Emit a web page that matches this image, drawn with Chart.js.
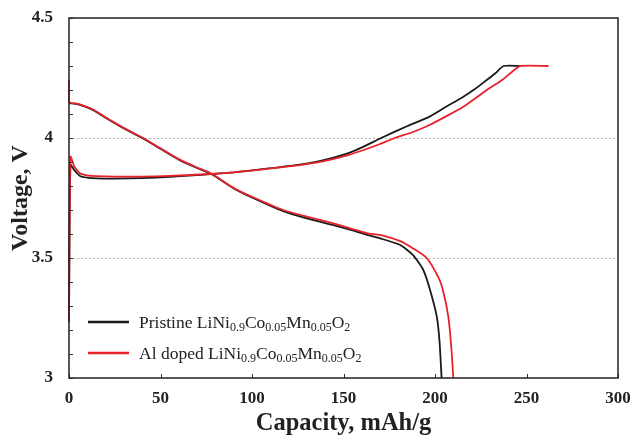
<!DOCTYPE html>
<html>
<head>
<meta charset="utf-8">
<script src="https://cdn.jsdelivr.net/npm/chart.js@4.4.1/dist/chart.umd.min.js"></script>
<style>
  html, body { margin: 0; padding: 0; background: #fff; }
  #wrap { width: 634px; height: 438px; position: relative; }
</style>
</head>
<body>
<div id="wrap"><canvas id="chart"></canvas></div>
<script>
// Axis ticks
const xTicks = [0, 50, 100, 150, 200, 250, 300];
const yTicks = [3, 3.5, 4, 4.5];

// Pristine (black) - charge
const pristineChargeX = [0, 0.8, 3, 6, 10, 15, 25, 40, 55, 72, 90, 108, 125, 135, 143, 153, 161, 170, 185, 197, 206, 215.5, 222, 228.3, 233, 237.5, 247];
const pristineChargeY = [3.25, 3.888, 3.865, 3.842, 3.835, 3.832, 3.831, 3.833, 3.838, 3.846, 3.857, 3.872, 3.888, 3.901, 3.915, 3.938, 3.964, 3.998, 4.05, 4.089, 4.13, 4.172, 4.205, 4.242, 4.27, 4.30, 4.30];
// Pristine (black) - discharge
const pristineDischargeX = [0, 5, 13, 22, 30, 40, 50, 60, 70, 78, 90, 100, 117, 130, 144, 155, 163, 170, 181, 188, 193.6, 197.3, 201, 202.5, 203.6];
const pristineDischargeY = [4.145, 4.14, 4.117, 4.075, 4.04, 4.0, 3.955, 3.91, 3.875, 3.849, 3.79, 3.752, 3.695, 3.665, 3.638, 3.615, 3.596, 3.582, 3.554, 3.512, 3.45, 3.367, 3.255, 3.15, 3.0];

// Al doped (red) - charge
const dopedChargeX = [0, 0.8, 3, 6, 10, 15, 25, 40, 55, 72, 90, 108, 125, 135, 143, 153, 161, 170, 178, 188, 197, 206, 215.5, 228.3, 237.3, 242, 246.5, 262];
const dopedChargeY = [3.23, 3.922, 3.88, 3.853, 3.844, 3.841, 3.839, 3.839, 3.842, 3.848, 3.857, 3.871, 3.886, 3.897, 3.91, 3.93, 3.95, 3.975, 4.0, 4.025, 4.054, 4.09, 4.13, 4.2, 4.245, 4.275, 4.30, 4.30];
// Al doped (red) - discharge
const dopedDischargeX = [0, 0, 5, 13, 22, 30, 40, 50, 60, 70, 78, 90, 100, 117, 130, 144, 155, 163, 170, 181, 188, 195.5, 201.8, 204.2, 207.3, 209, 210];
const dopedDischargeY = [4.24, 4.15, 4.142, 4.119, 4.077, 4.042, 4.002, 3.957, 3.912, 3.877, 3.851, 3.792, 3.755, 3.7, 3.672, 3.645, 3.62, 3.603, 3.596, 3.57, 3.54, 3.5, 3.42, 3.37, 3.255, 3.12, 3.0];

const BLACK = '#1a1a1a';
const RED = '#e8212a';

function pts(xs, ys) {
  return xs.map((x, i) => ({ x: x, y: ys[i] }));
}

function series(xs, ys, color, order) {
  return {
    data: pts(xs, ys),
    borderColor: color,
    backgroundColor: color,
    borderWidth: 1.8,
    pointRadius: 0,
    tension: 0.2,
    fill: false,
    clip: 3,
    order: order
  };
}

// Legend entries: [text, subscript?] segments
const legendItems = [
  { color: BLACK, parts: [['Pristine LiNi', 0], ['0.9', 1], ['Co', 0], ['0.05', 1], ['Mn', 0], ['0.05', 1], ['O', 0], ['2', 1]] },
  { color: RED, parts: [['Al doped LiNi', 0], ['0.9', 1], ['Co', 0], ['0.05', 1], ['Mn', 0], ['0.05', 1], ['O', 0], ['2', 1]] }
];

const SERIF = '"Liberation Serif", "Times New Roman", serif';

// Frame, inner tick marks and legend
const decorPlugin = {
  id: 'decor',
  afterDraw(chart) {
    const { ctx, chartArea: a, scales } = chart;
    ctx.save();
    // inner tick marks
    ctx.strokeStyle = '#333';
    ctx.lineWidth = 1;
    ctx.beginPath();
    scales.y.ticks.forEach(t => {
      const py = Math.round(scales.y.getPixelForValue(t.value)) + 0.5;
      ctx.moveTo(a.left, py);
      ctx.lineTo(a.left + 4, py);
    });
    xTicks.forEach(v => {
      const px = Math.round(scales.x.getPixelForValue(v)) + 0.5;
      ctx.moveTo(px, a.bottom);
      ctx.lineTo(px, a.bottom - 4);
    });
    ctx.stroke();
    // frame
    ctx.strokeStyle = '#222';
    ctx.lineWidth = 1.5;
    ctx.strokeRect(a.left, a.top, a.right - a.left, a.bottom - a.top);

    // legend
    const rows = [322, 353];
    legendItems.forEach((item, i) => {
      const y = rows[i];
      ctx.strokeStyle = item.color;
      ctx.lineWidth = 2.5;
      ctx.beginPath();
      ctx.moveTo(88, y);
      ctx.lineTo(129, y);
      ctx.stroke();
      let x = 139;
      ctx.fillStyle = '#222';
      ctx.textBaseline = 'alphabetic';
      ctx.textAlign = 'left';
      item.parts.forEach(([txt, sub]) => {
        ctx.font = sub ? '12px ' + SERIF : '17.5px ' + SERIF;
        ctx.fillText(txt, x, sub ? y + 9 : y + 6);
        x += ctx.measureText(txt).width;
      });
    });
    ctx.restore();
  }
};

// drop Chart.js's automatic label overflow padding so the plot box sits where it should
function noScalePadding(scale) {
  scale.paddingTop = 0;
  scale.paddingBottom = 0;
  scale.paddingLeft = 0;
  scale.paddingRight = 0;
}

new Chart(document.getElementById('chart'), {
  type: 'line',
  data: {
    datasets: [
      series(pristineChargeX, pristineChargeY, BLACK, 2),
      series(pristineDischargeX, pristineDischargeY, BLACK, 2),
      series(dopedChargeX, dopedChargeY, RED, 1),
      series(dopedDischargeX, dopedDischargeY, RED, 1)
    ]
  },
  options: {
    responsive: true,
    maintainAspectRatio: false,
    animation: false,
    layout: { padding: { top: 18, right: 16, left: 0, bottom: 0 } },
    plugins: {
      legend: { display: false },
      tooltip: { enabled: false }
    },
    scales: {
      x: {
        type: 'linear',
        min: 0,
        max: 300,
        afterBuildTicks: (scale) => { scale.ticks = xTicks.map(v => ({ value: v })); },
        afterFit: (scale) => { scale.height = 60; noScalePadding(scale); },
        ticks: {
          padding: 10,
          color: '#222',
          font: { family: SERIF, size: 17, weight: 'bold' },
          maxRotation: 0
        },
        grid: { display: false, drawTicks: false },
        border: { display: false },
        title: {
          display: true,
          text: 'Capacity, mAh/g',
          color: '#222',
          font: { family: SERIF, size: 24.5, weight: 'bold' },
          padding: { top: 0, bottom: 0 }
        }
      },
      y: {
        type: 'linear',
        min: 3,
        max: 4.5,
        ticks: {
          stepSize: 0.1,
          padding: 16,
          color: '#222',
          font: { family: SERIF, size: 17, weight: 'bold' },
          callback: (v) => {
            const hit = yTicks.find(t => Math.abs(t - v) < 1e-6);
            return hit === undefined ? '' : String(hit);
          }
        },
        afterFit: (scale) => { scale.width = 69; noScalePadding(scale); },
        grid: {
          drawTicks: false,
          lineWidth: 1,
          color: (ctx) => {
            const v = ctx.tick ? ctx.tick.value : null;
            return (v !== null && (Math.abs(v - 4) < 1e-6 || Math.abs(v - 3.5) < 1e-6)) ? '#b5b5b5' : 'rgba(0,0,0,0)';
          }
        },
        border: { display: false, dash: [2, 2] },
        title: {
          display: true,
          text: 'Voltage, V',
          color: '#222',
          font: { family: SERIF, size: 24, weight: 'bold' },
          padding: { top: 6, bottom: 0 }
        }
      }
    }
  },
  plugins: [decorPlugin]
});
</script>
</body>
</html>
